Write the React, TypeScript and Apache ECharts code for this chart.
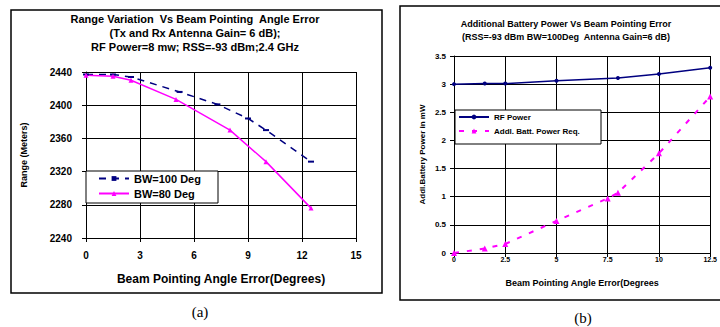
import React, { useEffect, useRef } from "react";
import * as echarts from "echarts";

// Chart (a): Range vs beam pointing angle error
const angleBW100 = [0, 1.5, 2.5, 5.2, 7.3, 9, 10, 12.5];
const rangeBW100 = [2437, 2437, 2434, 2416, 2401, 2384, 2370, 2332];
const angleBW80 = [0, 1.5, 2.5, 5, 8, 10, 12.5];
const rangeBW80 = [2436, 2435, 2430, 2407, 2370, 2332, 2276];

// Chart (b): Additional battery power vs beam pointing error
const angleRF = [0, 1.5, 2.5, 5, 8, 10, 12.5];
const rfPower = [3.0, 3.01, 3.01, 3.06, 3.11, 3.18, 3.29];
const angleAddl = [0, 1.5, 2.5, 5, 7.5, 8, 10, 12.5];
const addlPower = [0, 0.08, 0.16, 0.57, 0.97, 1.07, 1.77, 2.78];

const seriesNames = ["BW=100 Deg", "BW=80 Deg", "RF Power", "Addl. Batt. Power Req."];
const titleA = [
  "Range Variation  Vs Beam Pointing  Angle Error",
  "(Tx and Rx Antenna Gain= 6 dB);",
  "RF Power=8 mw; RSS=-93 dBm;2.4 GHz",
];
const titleB = [
  "Additional Battery Power Vs Beam Pointing Error",
  "(RSS=-93 dBm BW=100Deg  Antenna Gain=6 dB)",
];

const FONT = "Liberation Sans, Arial, sans-serif";

const zip = (xs: number[], ys: number[]) => xs.map((x, i) => [x, ys[i]]);

export default function App() {
  const ref = useRef<HTMLDivElement>(null);
  useEffect(() => {
    document.body.style.margin = "0";
    const chart = echarts.init(ref.current!, null, { renderer: "svg" });
    const axisCommon = (fs: number, margin: number) => ({
      type: "value" as const,
      axisLine: { show: true, lineStyle: { color: "#000", width: 1 } },
      axisTick: { show: true, length: 4, lineStyle: { color: "#000" } },
      axisLabel: {
        color: "#000",
        fontSize: fs,
        fontWeight: "bold",
        fontFamily: FONT,
        margin,
        formatter: (v: number) => String(v),
      },
      splitLine: { show: true, lineStyle: { color: "#000", width: 1 } },
      nameLocation: "middle" as const,
    });
    const option: any = {
      animation: false,
      backgroundColor: "#fff",
      textStyle: { fontFamily: FONT },
      grid: [
        { left: 86, top: 72, width: 270, height: 166 },
        { left: 454, top: 56, width: 263, height: 197 },
      ],
      xAxis: [
        {
          ...axisCommon(10, 12),
          gridIndex: 0,
          min: 0,
          max: 15,
          interval: 3,
          name: "Beam Pointing Angle Error(Degrees)",
          nameGap: 35,
          nameTextStyle: { color: "#000", fontWeight: "bold", fontFamily: FONT, fontSize: 12 },
        },
        {
          ...axisCommon(7, 3),
          gridIndex: 1,
          min: 0,
          max: 12.5,
          interval: 2.5,
          name: "Beam Pointing Angle Error(Degrees",
          nameGap: 25,
          nameTextStyle: { color: "#000", fontWeight: "bold", fontFamily: FONT, fontSize: 9 },
        },
      ],
      yAxis: [
        {
          ...axisCommon(10, 14),
          gridIndex: 0,
          min: 2240,
          max: 2440,
          interval: 40,
          name: "Range (Meters)",
          nameGap: 58,
          nameTextStyle: { color: "#000", fontWeight: "bold", fontFamily: FONT, fontSize: 9 },
        },
        {
          ...axisCommon(8, 8),
          gridIndex: 1,
          min: 0,
          max: 3.5,
          interval: 0.5,
          name: "Addl.Battery Power in mW",
          nameGap: 28,
          nameTextStyle: { color: "#000", fontWeight: "bold", fontFamily: FONT, fontSize: 8 },
        },
      ],
      legend: [
        {
          data: [seriesNames[0], seriesNames[1]],
          orient: "vertical",
          left: 98,
          top: 173,
          padding: 0,
          itemWidth: 30,
          itemHeight: 6,
          itemGap: 4,
          textStyle: { color: "#000", fontSize: 11, fontWeight: "bold", fontFamily: FONT },
        },
        {
          data: [seriesNames[2], seriesNames[3]],
          orient: "vertical",
          left: 458,
          top: 113,
          padding: 0,
          itemWidth: 30,
          itemHeight: 6,
          itemGap: 6,
          textStyle: { color: "#000", fontSize: 8, fontWeight: "bold", fontFamily: FONT },
        },
      ],
      series: [
        {
          name: seriesNames[0],
          type: "line",
          xAxisIndex: 0,
          yAxisIndex: 0,
          data: zip(angleBW100, rangeBW100),
          symbol: "rect",
          symbolSize: [6, 2],
          color: "#000080",
          lineStyle: { color: "#000080", width: 1.5, type: [7, 6] },
          itemStyle: { color: "#000080" },
        },
        {
          name: seriesNames[1],
          type: "line",
          xAxisIndex: 0,
          yAxisIndex: 0,
          data: zip(angleBW80, rangeBW80),
          symbol: "triangle",
          symbolSize: 5,
          color: "#ff00ff",
          lineStyle: { color: "#ff00ff", width: 1.5 },
          itemStyle: { color: "#ff00ff" },
        },
        {
          name: seriesNames[2],
          type: "line",
          xAxisIndex: 1,
          yAxisIndex: 1,
          data: zip(angleRF, rfPower),
          symbol: "circle",
          symbolSize: 4,
          color: "#000080",
          lineStyle: { color: "#000080", width: 1.5 },
          itemStyle: { color: "#000080" },
        },
        {
          name: seriesNames[3],
          type: "line",
          xAxisIndex: 1,
          yAxisIndex: 1,
          data: zip(angleAddl, addlPower),
          symbol: "triangle",
          symbolSize: 6,
          color: "#ff00ff",
          lineStyle: { color: "#ff00ff", width: 2, type: [5, 8] },
          itemStyle: { color: "#ff00ff" },
        },
      ],
      graphic: [
        { type: "rect", z: 0, shape: { x: 11, y: 10, width: 371, height: 283 }, style: { fill: "none", stroke: "#000", lineWidth: 1.5 } },
        { type: "rect", z: 0, shape: { x: 400, y: 6, width: 340, height: 294 }, style: { fill: "none", stroke: "#000", lineWidth: 1.5 } },
        { type: "rect", z: 1, shape: { x: 86, y: 171, width: 132, height: 32 }, style: { fill: "#fff", stroke: "#000", lineWidth: 1 } },
        { type: "rect", z: 1, shape: { x: 455, y: 110, width: 146, height: 34 }, style: { fill: "#fff", stroke: "#000", lineWidth: 1 } },
        ...titleA.map((t, i) => ({
          type: "text",
          z: 5,
          x: 195,
          y: [19, 33, 47][i],
          style: { text: t, textAlign: "center", textVerticalAlign: "middle", fill: "#000", font: `bold 11px ${FONT}` },
        })),
        ...titleB.map((t, i) => ({
          type: "text",
          z: 5,
          x: 566,
          y: [24, 37][i],
          style: { text: t, textAlign: "center", textVerticalAlign: "middle", fill: "#000", font: `bold 9px ${FONT}` },
        })),
        { type: "text", z: 5, x: 200, y: 312, style: { text: "(a)", textAlign: "center", textVerticalAlign: "middle", fill: "#000", font: `15px Liberation Serif, serif` } },
        { type: "text", z: 5, x: 583, y: 318, style: { text: "(b)", textAlign: "center", textVerticalAlign: "middle", fill: "#000", font: `15px Liberation Serif, serif` } },
      ],
    };
    chart.setOption(option);
    return () => chart.dispose();
  }, []);
  return <div ref={ref} style={{ width: 720, height: 327 }} />;
}
